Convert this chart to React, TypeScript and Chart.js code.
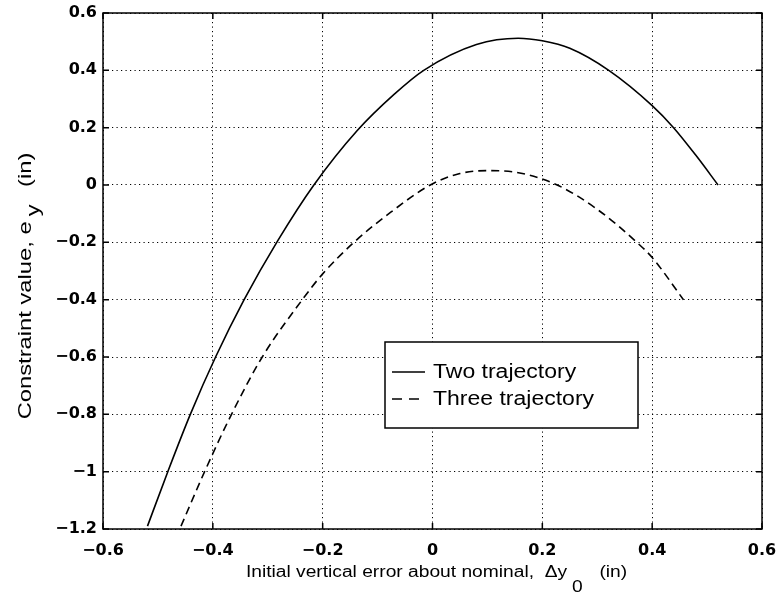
import React, { useEffect, useRef } from "react";
import { Chart, registerables } from "chart.js";

Chart.register(...registerables);

// ---- data ----
const twoX = [-0.519, -0.482, -0.441, -0.395, -0.343, -0.282, -0.216, -0.137, -0.07, -0.016, 0.08, 0.156, 0.2, 0.25, 0.321, 0.4, 0.439, 0.481, 0.52];
const twoY = [-1.19, -1.0, -0.8, -0.6, -0.4, -0.195, 0.0, 0.19, 0.316, 0.4, 0.49, 0.512, 0.503, 0.477, 0.4, 0.277, 0.2, 0.1, 0.0];

const threeX = [-0.458, -0.415, -0.366, -0.31, -0.237, -0.2, -0.143, -0.076, -0.004, 0.05, 0.1, 0.15, 0.227, 0.3, 0.372, 0.4, 0.457];
const threeY = [-1.19, -1.0, -0.8, -0.6, -0.4, -0.31, -0.2, -0.095, 0.0, 0.04, 0.05, 0.045, 0.0, -0.085, -0.2, -0.253, -0.4];

const seriesLabels = ["Two trajectory", "Three trajectory"];

const xTickValues = [-0.6, -0.4, -0.2, 0, 0.2, 0.4, 0.6];
const xTickLabels = ["\u22120.6", "\u22120.4", "\u22120.2", "0", "0.2", "0.4", "0.6"];
const yTickValues = [-1.2, -1, -0.8, -0.6, -0.4, -0.2, 0, 0.2, 0.4, 0.6];
const yTickLabels = ["\u22121.2", "\u22121", "\u22120.8", "\u22120.6", "\u22120.4", "\u22120.2", "0", "0.2", "0.4", "0.6"];

const xTitleMain = "Initial vertical error about nominal,  \u0394y";
const xTitleSub = "0";
const xTitleUnit = "(in)";
const yTitleMain = "Constraint value, e";
const yTitleSub = "y";
const yTitleUnit = "(in)";

const FONT = "'Liberation Sans', Arial, Helvetica, sans-serif";
const TICK_FONT = "'DejaVu Sans', 'Liberation Sans', sans-serif";

const toPoints = (xs: number[], ys: number[]) => xs.map((x, i) => ({ x, y: ys[i] }));

// draws text pieces (main, subscript, unit) along the current x direction, stretched along the text
function drawTitle(ctx: CanvasRenderingContext2D, cx: number, cy: number, stretch: number, main: string, sub: string, unit: string, subDrop: number) {
  const wMain = ctx.measureText(main).width;
  const wSub = ctx.measureText(sub).width;
  const wUnit = ctx.measureText(unit).width;
  const gap1 = 4, gap2 = 14;
  const total = wMain + gap1 + wSub + gap2 + wUnit;
  ctx.save();
  ctx.translate(cx, cy);
  ctx.scale(stretch, 1);
  let sx = -total / 2;
  ctx.fillText(main, sx, 0);
  sx += wMain + gap1;
  ctx.fillText(sub, sx, subDrop);
  sx += wSub + gap2;
  ctx.fillText(unit, sx, 0);
  ctx.restore();
}

const framePlugin = {
  id: "matlabFrame",
  afterDraw(chart: any) {
    const { ctx, chartArea } = chart;
    const { left, right, top, bottom } = chartArea;
    const xs = chart.scales.x;
    const ys = chart.scales.y;
    ctx.save();
    // frame
    ctx.strokeStyle = "#000";
    ctx.lineWidth = 1.5;
    ctx.setLineDash([]);
    ctx.strokeRect(left, top, right - left, bottom - top);
    // inward ticks on all sides
    const tl = 6;
    ctx.lineWidth = 1.5;
    xTickValues.forEach((v) => {
      const px = xs.getPixelForValue(v);
      ctx.beginPath();
      ctx.moveTo(px, bottom);
      ctx.lineTo(px, bottom - tl);
      ctx.moveTo(px, top);
      ctx.lineTo(px, top + tl);
      ctx.stroke();
    });
    yTickValues.forEach((v) => {
      const py = ys.getPixelForValue(v);
      ctx.beginPath();
      ctx.moveTo(left, py);
      ctx.lineTo(left + tl, py);
      ctx.moveTo(right, py);
      ctx.lineTo(right - tl, py);
      ctx.stroke();
    });

    // legend
    const lx = 385, ly = 342, lw = 253, lh = 86;
    ctx.fillStyle = "#fff";
    ctx.fillRect(lx, ly, lw, lh);
    ctx.lineWidth = 1.5;
    ctx.strokeStyle = "#000";
    ctx.strokeRect(lx, ly, lw, lh);
    const rows = [372, 399];
    chart.data.datasets.forEach((ds: any, i: number) => {
      const ry = rows[i];
      ctx.beginPath();
      ctx.lineWidth = 1.5;
      ctx.setLineDash(ds.borderDash && ds.borderDash.length ? [10, 7] : []);
      ctx.moveTo(392, ry);
      ctx.lineTo(425, ry);
      ctx.stroke();
      ctx.setLineDash([]);
      ctx.fillStyle = "#000";
      ctx.font = `20px ${FONT}`;
      ctx.textBaseline = "middle";
      ctx.textAlign = "left";
      ctx.save();
      ctx.translate(433, ry);
      ctx.scale(1.15, 1);
      ctx.fillText(ds.label, 0, 0);
      ctx.restore();
    });

    // x-axis title
    ctx.fillStyle = "#000";
    ctx.font = `16px ${FONT}`;
    ctx.textBaseline = "alphabetic";
    ctx.textAlign = "left";
    drawTitle(ctx, (left + right) / 2 + 4, 577, 1.2, xTitleMain, xTitleSub, xTitleUnit, 15);

    // y-axis title (rotated)
    ctx.save();
    ctx.font = `19px ${FONT}`;
    ctx.translate(31, 286);
    ctx.rotate(-Math.PI / 2);
    drawTitle(ctx, 0, 0, 1.25, yTitleMain, yTitleSub, yTitleUnit, 8);
    ctx.restore();

    ctx.restore();
  },
};

export default function App() {
  const ref = useRef<HTMLCanvasElement | null>(null);

  useEffect(() => {
    if (!ref.current) return;
    const gridCommon = {
      color: "#000",
      lineWidth: 1,
      drawTicks: false,
    };
    const borderCommon = { display: false, dash: [1.2, 3.3], color: "#000", width: 1 };
    const chart = new Chart(ref.current, {
      type: "scatter",
      data: {
        datasets: [
          {
            label: seriesLabels[0],
            data: toPoints(twoX, twoY),
            showLine: true,
            borderColor: "#000",
            borderWidth: 1.6,
            pointRadius: 0,
            cubicInterpolationMode: "monotone",
          },
          {
            label: seriesLabels[1],
            data: toPoints(threeX, threeY),
            showLine: true,
            borderColor: "#000",
            borderWidth: 1.6,
            borderDash: [8, 5],
            pointRadius: 0,
            cubicInterpolationMode: "monotone",
          },
        ],
      },
      options: {
        responsive: false,
        animation: false,
        layout: { padding: { left: 0, right: 19, top: 13, bottom: 0 } },
        plugins: {
          legend: { display: false },
          tooltip: { enabled: false },
          title: { display: false },
        },
        scales: {
          x: {
            type: "linear",
            min: -0.6,
            max: 0.6,
            afterBuildTicks: (scale: any) => {
              scale.ticks = xTickValues.map((v) => ({ value: v }));
            },
            afterFit: (scale: any) => {
              scale.height = 71;
              scale.paddingLeft = 0;
              scale.paddingRight = 0;
            },
            grid: gridCommon,
            border: borderCommon,
            ticks: {
              color: "#000",
              padding: 12,
              maxRotation: 0,
              font: { family: TICK_FONT, size: 16, weight: "bold" },
              callback: (v: any) => {
                const i = xTickValues.findIndex((t) => Math.abs(t - Number(v)) < 1e-9);
                return i >= 0 ? xTickLabels[i] : "";
              },
            },
          },
          y: {
            type: "linear",
            min: -1.2,
            max: 0.6,
            afterBuildTicks: (scale: any) => {
              scale.ticks = yTickValues.map((v) => ({ value: v }));
            },
            afterFit: (scale: any) => {
              scale.width = 103;
              scale.paddingTop = 0;
              scale.paddingBottom = 0;
            },
            grid: gridCommon,
            border: borderCommon,
            ticks: {
              color: "#000",
              padding: 6,
              font: { family: TICK_FONT, size: 16, weight: "bold" },
              callback: (v: any) => {
                const i = yTickValues.findIndex((t) => Math.abs(t - Number(v)) < 1e-9);
                return i >= 0 ? yTickLabels[i] : "";
              },
            },
          },
        },
      },
      plugins: [framePlugin],
    } as any);
    return () => chart.destroy();
  }, []);

  return (
    <div style={{ position: "absolute", left: 0, top: 0, width: 781, height: 600, background: "#fff" }}>
      <canvas ref={ref} width={781} height={600} style={{ display: "block" }} />
    </div>
  );
}
